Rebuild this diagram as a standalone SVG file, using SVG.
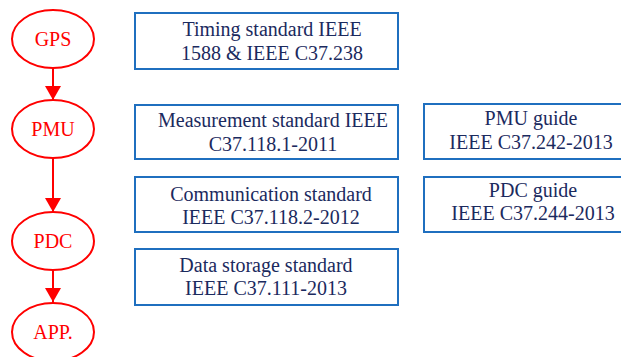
<svg xmlns="http://www.w3.org/2000/svg" width="621" height="357" viewBox="0 0 621 357">
<defs>
<style>
.ell{fill:#fff;stroke:#ff0000;stroke-width:2}
.et{font-family:"Liberation Serif","Times New Roman",serif;font-size:20px;fill:#ff0000;text-anchor:middle}
.box{fill:#fff;stroke:#1f6fbf;stroke-width:2}
.bt{font-family:"Liberation Serif","Times New Roman",serif;font-size:20px;fill:#1b2a5e;text-anchor:middle}
.con{stroke:#ff0000;stroke-width:2;fill:none}
</style>
<marker id="ah" markerWidth="7" markerHeight="8" refX="7" refY="4" orient="auto" markerUnits="strokeWidth">
<path d="M0,0 L7,4 L0,8 Z" fill="#ff0000"/>
</marker>
</defs>
<rect width="621" height="357" fill="#fff"/>
<g id="connectors">
<line class="con" x1="53" y1="68" x2="53" y2="100" marker-end="url(#ah)"/>
<line class="con" x1="53" y1="158" x2="53" y2="212" marker-end="url(#ah)"/>
<line class="con" x1="53" y1="270" x2="53" y2="302" marker-end="url(#ah)"/>
</g>
<g id="gps"><ellipse class="ell" cx="53" cy="39" rx="41" ry="29"/><text class="et" x="53" y="46">GPS</text></g>
<g id="pmu"><ellipse class="ell" cx="53" cy="129" rx="41" ry="29"/><text class="et" x="53" y="136">PMU</text></g>
<g id="pdc"><ellipse class="ell" cx="53" cy="241" rx="41" ry="29"/><text class="et" x="53" y="248">PDC</text></g>
<g id="app"><ellipse class="ell" cx="53" cy="332" rx="41" ry="29"/><text class="et" x="53" y="339">APP.</text></g>
<g id="timing"><rect class="box" x="135" y="13" width="263" height="56"/><text class="bt" x="272" y="36">Timing standard IEEE</text><text class="bt" x="272" y="60">1588 &amp; IEEE C37.238</text></g>
<g id="measurement"><rect class="box" x="135" y="105" width="263" height="54"/><text class="bt" x="273" y="127">Measurement standard IEEE</text><text class="bt" x="273" y="151">C37.118.1-2011</text></g>
<g id="communication"><rect class="box" x="135" y="177" width="263" height="55"/><text class="bt" x="271" y="201">Communication standard</text><text class="bt" x="271" y="224">IEEE C37.118.2-2012</text></g>
<g id="storage"><rect class="box" x="135" y="249" width="263" height="56"/><text class="bt" x="266" y="272">Data storage standard</text><text class="bt" x="266" y="295">IEEE C37.111-2013</text></g>
<g id="pmuguide"><rect class="box" x="424" y="104" width="200" height="55"/><text class="bt" x="531" y="125">PMU guide</text><text class="bt" x="531" y="149">IEEE C37.242-2013</text></g>
<g id="pdcguide"><rect class="box" x="424" y="177" width="200" height="55"/><text class="bt" x="533" y="197">PDC guide</text><text class="bt" x="533" y="220">IEEE C37.244-2013</text></g>
</svg>
